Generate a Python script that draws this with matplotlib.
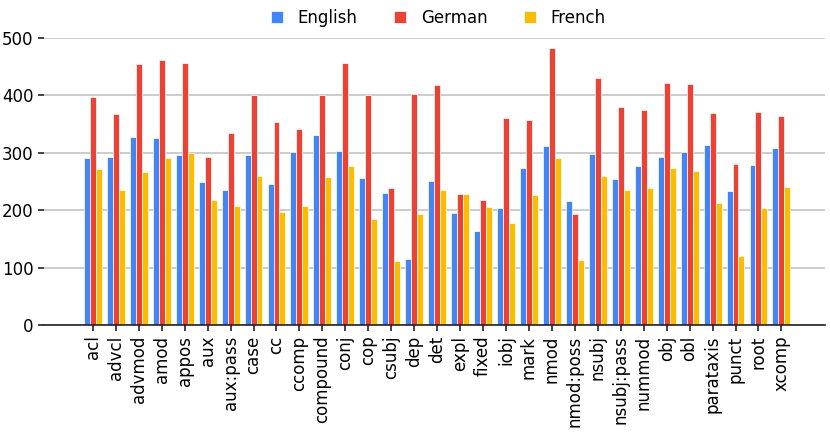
import numpy as np
import matplotlib
matplotlib.use("Agg")
import matplotlib.pyplot as plt

# dependency relations and per-language counts
relations = ["acl", "advcl", "advmod", "amod", "appos", "aux", "aux:pass", "case",
             "cc", "ccomp", "compound", "conj", "cop", "csubj", "dep", "det",
             "expl", "fixed", "iobj", "mark", "nmod", "nmod:poss", "nsubj",
             "nsubj:pass", "nummod", "obj", "obl", "parataxis", "punct", "root",
             "xcomp"]
english = [291, 293, 327, 326, 296, 249, 236, 296, 245, 302, 331, 304, 256, 230,
           116, 251, 195, 164, 204, 273, 312, 217, 298, 254, 277, 293, 301, 313,
           233, 279, 309]
german = [398, 367, 455, 462, 456, 292, 334, 400, 354, 341, 400, 456, 401, 239,
          403, 418, 228, 218, 361, 358, 483, 193, 431, 380, 375, 421, 420, 369,
          281, 371, 364]
french = [272, 236, 266, 291, 299, 218, 207, 260, 197, 208, 258, 277, 184, 111,
          193, 235, 228, 205, 177, 227, 291, 113, 259, 235, 238, 273, 268, 212,
          121, 204, 240]

BLUE = "#4285F4"
RED = "#EA4335"
YELLOW = "#FBBC04"

plt.rcParams.update({
    "font.family": "DejaVu Sans",
    "font.size": 12,
})

fig = plt.figure(figsize=(8.3, 4.37), dpi=100)
ax = fig.add_axes([0.053, 0.256, 0.941, 0.657])

x = np.arange(len(relations))
w = 0.26
ax.bar(x - w, english, w, color=BLUE, edgecolor="#ffffff", lw=0.5, label="English")
ax.bar(x, german, w, color=RED, edgecolor="#ffffff", lw=0.5, label="German")
ax.bar(x + w, french, w, color=YELLOW, edgecolor="#ffffff", lw=0.5, label="French")

ax.set_xticks(x)
ax.set_xticklabels(relations, rotation=90)
ax.set_xlim(-2.13, 31.9)
ax.set_ylim(0, 500)
ax.set_yticks([0, 100, 200, 300, 400, 500])

for s in ("top", "right", "left"):
    ax.spines[s].set_visible(False)
ax.spines["bottom"].set_color("#222222")
ax.spines["bottom"].set_linewidth(1.2)
ax.tick_params(axis="both", length=4, width=1.2, color="#222222")
ax.grid(axis="y", color="#c4c4c4", lw=1.2)
ax.set_axisbelow(True)

ax.legend(loc="upper center", bbox_to_anchor=(0.505, 1.153), ncol=3, frameon=False,
          handlelength=0.7, handleheight=0.7, columnspacing=2.2, handletextpad=0.9)

fig.savefig("out.png", dpi=100)
